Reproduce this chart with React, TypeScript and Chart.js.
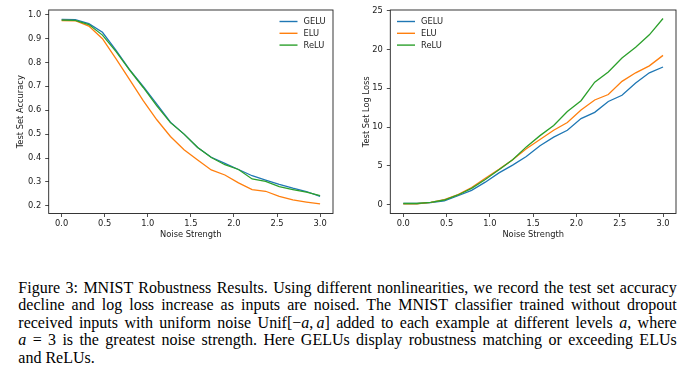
import React, { useEffect, useRef } from "react";
import { Chart, registerables } from "chart.js";

Chart.register(...registerables);

// Noise strength levels (x axis)
const noiseLevels = [0, 0.158, 0.316, 0.474, 0.632, 0.789, 0.947, 1.105, 1.263, 1.421, 1.579, 1.737, 1.895, 2.053, 2.211, 2.368, 2.526, 2.684, 2.842, 3.0];

// Test set accuracy
const accGELU = [0.98, 0.979, 0.962, 0.926, 0.85, 0.77, 0.7, 0.625, 0.55, 0.5, 0.444, 0.403, 0.378, 0.352, 0.326, 0.308, 0.29, 0.274, 0.26, 0.24];
const accELU = [0.975, 0.974, 0.952, 0.899, 0.815, 0.728, 0.64, 0.56, 0.49, 0.435, 0.392, 0.35, 0.329, 0.296, 0.268, 0.261, 0.24, 0.225, 0.216, 0.208];
const accReLU = [0.977, 0.976, 0.958, 0.914, 0.845, 0.768, 0.695, 0.618, 0.548, 0.5, 0.444, 0.402, 0.372, 0.352, 0.3125, 0.302, 0.28, 0.268, 0.257, 0.243];

// Test set log loss
const lossGELU = [0.15, 0.15, 0.25, 0.5, 1.15, 1.85, 2.9, 4.1, 5.1, 6.2, 7.6, 8.7, 9.6, 11.1, 11.9, 13.3, 14.1, 15.7, 17.0, 17.75];
const lossELU = [0.1, 0.12, 0.3, 0.65, 1.3, 2.2, 3.4, 4.55, 5.8, 7.2, 8.4, 9.6, 10.6, 12.2, 13.5, 14.2, 15.9, 17.0, 17.9, 19.25];
const lossReLU = [0.15, 0.15, 0.3, 0.6, 1.25, 2.1, 3.25, 4.5, 5.8, 7.45, 8.9, 10.2, 12.0, 13.4, 15.8, 17.1, 18.9, 20.3, 21.9, 24.0];

const seriesNames = ["GELU", "ELU", "ReLU"];
const seriesColors = ["#1f77b4", "#ff7f0e", "#2ca02c"];

const FONT = "DejaVu Sans";
const FS = 8.3;
const INK = "#222";

const framePlugin = {
  id: "frameLegend",
  afterDatasetsDraw(chart: any, _args: any, opts: any) {
    const { ctx, chartArea } = chart;
    const { left, top, right, bottom } = chartArea;
    ctx.save();
    ctx.strokeStyle = INK;
    ctx.lineWidth = 0.9;
    ctx.strokeRect(left, top, right - left, bottom - top);
    // legend
    ctx.font = `${FS}px "${FONT}"`;
    ctx.textBaseline = "middle";
    ctx.textAlign = "left";
    chart.data.datasets.forEach((ds: any, i: number) => {
      const y = opts.y0 + i * opts.dy;
      ctx.strokeStyle = ds.borderColor;
      ctx.lineWidth = 1.4;
      ctx.beginPath();
      ctx.moveTo(opts.x0, y);
      ctx.lineTo(opts.x0 + opts.len, y);
      ctx.stroke();
      ctx.fillStyle = INK;
      ctx.fillText(ds.label, opts.x0 + opts.len + 6, y + 0.5);
    });
    ctx.restore();
  },
};

type PanelProps = {
  series: number[][];
  yMin: number;
  yMax: number;
  yStep: number;
  decimals: number;
  yTitle: string;
  axisW: number;
  rightPad: number;
  legendX: number;
};

function Panel(p: PanelProps) {
  const ref = useRef<HTMLCanvasElement>(null);
  useEffect(() => {
    const chart = new Chart(ref.current!, {
      type: "line",
      data: {
        datasets: seriesNames.map((name, i) => ({
          label: name,
          data: noiseLevels.map((x, j) => ({ x, y: p.series[i][j] })),
          borderColor: seriesColors[i],
          backgroundColor: seriesColors[i],
          borderWidth: 1.3,
          pointRadius: 0,
          tension: 0,
          fill: false,
          order: 3 - i,
        })),
      },
      options: {
        responsive: false,
        animation: false,
        devicePixelRatio: 1,
        layout: { padding: { top: 10, right: p.rightPad, left: 0, bottom: 0 } },
        plugins: {
          legend: { display: false },
          tooltip: { enabled: false },
          frameLegend: { x0: p.legendX, y0: 21.5, dy: 11.8, len: 18 },
        } as any,
        scales: {
          x: {
            type: "linear",
            min: -0.15,
            max: 3.15,
            border: { display: false },
            grid: { display: true, drawOnChartArea: false, drawTicks: true, tickLength: 3.5, color: INK, lineWidth: 0.8 },
            ticks: {
              stepSize: 0.5,
              includeBounds: false,
              autoSkip: false,
              maxRotation: 0,
              padding: 2,
              color: INK,
              font: { family: FONT, size: FS },
              callback: (v: any) => Number(v).toFixed(1),
            },
            title: {
              display: true,
              text: "Noise Strength",
              color: INK,
              font: { family: FONT, size: FS },
              padding: { top: 0, bottom: 6 },
            },
            afterFit: (s: any) => {
              s.height = 32.5;
            },
          },
          y: {
            type: "linear",
            min: p.yMin,
            max: p.yMax,
            border: { display: false },
            grid: { display: true, drawOnChartArea: false, drawTicks: true, tickLength: 3.5, color: INK, lineWidth: 0.8 },
            ticks: {
              stepSize: p.yStep,
              includeBounds: false,
              autoSkip: false,
              padding: 4,
              color: INK,
              font: { family: FONT, size: FS },
              callback: (v: any) => Number(v).toFixed(p.decimals),
            },
            title: {
              display: true,
              text: p.yTitle,
              color: INK,
              font: { family: FONT, size: FS },
              padding: { top: 16, bottom: 0 },
            },
            afterFit: (s: any) => {
              s.width = p.axisW;
            },
          },
        },
      },
      plugins: [framePlugin],
    });
    return () => chart.destroy();
  }, []);
  return <canvas ref={ref} width={346} height={246} style={{ display: "block", width: 346, height: 246 }} />;
}

const lineStyle: React.CSSProperties = {
  width: 658.4,
  textAlign: "justify",
  textAlignLast: "justify" as any,
  height: 17.6,
  whiteSpace: "nowrap",
  overflow: "visible",
};

export default function App() {
  return (
    <div style={{ position: "absolute", left: 0, top: 0, width: 692, height: 381, background: "#fff", overflow: "hidden" }}>
      <div style={{ position: "absolute", left: 0, top: 0 }}>
        <Panel series={[accGELU, accELU, accReLU]} yMin={0.168} yMax={1.019} yStep={0.1} decimals={1} yTitle="Test Set Accuracy" axisW={48.7} rightPad={13} legendX={279.5} />
      </div>
      <div style={{ position: "absolute", left: 346, top: 0 }}>
        <Panel series={[lossGELU, lossELU, lossReLU]} yMin={-1.14} yMax={25.1} yStep={5} decimals={0} yTitle="Test Set Log Loss" axisW={44.3} rightPad={16} legendX={51} />
      </div>
      <div
        style={{
          position: "absolute",
          left: 18.3,
          top: 278.5,
          fontFamily: '"Liberation Serif", "Times New Roman", serif',
          fontSize: 16,
          lineHeight: "17.6px",
          color: "#000",
        }}
      >
        <div style={lineStyle}>Figure 3: MNIST Robustness Results. Using different nonlinearities, we record the test set accuracy</div>
        <div style={lineStyle}>decline and log loss increase as inputs are noised. The MNIST classifier trained without dropout</div>
        <div style={lineStyle}>
          received inputs with uniform noise Unif[−<i>a</i>,&#8201;<i>a</i>] added to each example at different levels <i>a</i>, where
        </div>
        <div style={lineStyle}>
          <i>a</i> = 3 is the greatest noise strength. Here GELUs display robustness matching or exceeding ELUs
        </div>
        <div style={{ ...lineStyle, textAlignLast: "left" as any }}>and ReLUs.</div>
      </div>
    </div>
  );
}
